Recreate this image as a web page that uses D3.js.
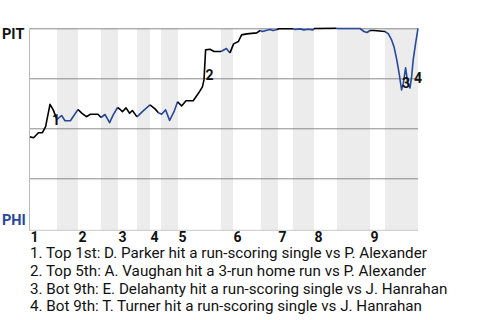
<!DOCTYPE html>
<html><head><meta charset="utf-8">
<script src="https://cdnjs.cloudflare.com/ajax/libs/d3/7.8.5/d3.min.js"></script>
<style>body{margin:0;background:#fff}svg{display:block}</style>
</head><body><svg id="c" width="480" height="320"></svg>
<script>
// half-inning start positions (plate-appearance index), last entry = end of game
const halfStarts = [0, 6.75, 12, 17.75, 22, 26.75, 30, 32.75, 37, 47.75, 50.75, 57.75, 62, 65.75, 71, 76.75, 85, 88.75, 97];
const inningLabels = ["1","2","3","4","5","6","7","8","9"];
// PIT win probability (%) by play index
const playX = [0,0.9,2.1,3.1,3.9,5.0,5.8,6.75,7.9,8.75,10.1,12,13,14.1,15.1,17,17.75,18.75,19.9,20.8,21.9,22.5,23.1,24,24.9,25.6,26.75,28.3,30,31.25,32.1,32.9,33.9,34.9,36,36.9,37.9,39,40.8,42.1,43.1,43.5,43.9,45,46,47.75,49.1,50,50.9,52.1,52.9,54.2,56.7,57.5,58.2,59,60,60.75,61.75,62.25,65.75,66.25,67.5,68.5,69.5,70.75,71,76.5,77,82.5,83.5,84.25,85,86,88.75,89.6,90.4,91,91.7,92.3,92.9,93.3,93.9,94.4,95,95.4,95.8,96.4,97];
const winPct = [45.7,45.3,47.8,47.8,50.8,62.0,59.2,54.4,56.4,53.8,53.8,59.4,57.5,55.8,57.0,57.0,55.4,56.9,52.8,56.7,60.4,59.5,58.3,60.2,57.5,58.9,55.7,58.7,61.7,59.7,57.8,57.0,59.2,53.9,58.3,63.3,61.2,63.8,63.8,67.5,70.7,74.2,89.2,89.5,88.4,88.4,89.9,87.7,92.2,93.4,96.7,97.2,97.7,98.9,98.4,98.9,99.4,98.9,99.4,99.8,99.8,99.4,99.7,99.2,99.5,99.2,99.9,100,99.9,99.9,98.4,97.9,98.9,98.9,98.4,97.2,94.2,90.8,84.2,77.2,69.2,72.2,80.2,73.2,70.2,75.7,84.2,92.5,100];
// key events
const eventNums = ["1","2","3","4"];
const eventX = [5.5, 43.9, 93.0, 96.0];
const eventPct = [51.6, 74.0, 70.3, 72.8];
const eventText = [
  "1. Top 1st: D. Parker hit a run-scoring single vs P. Alexander",
  "2. Top 5th: A. Vaughan hit a 3-run home run vs P. Alexander",
  "3. Bot 9th: E. Delahanty hit a run-scoring single vs J. Hanrahan",
  "4. Bot 9th: T. Turner hit a run-scoring single vs J. Hanrahan"
];
const teams = ["PIT", "PHI"];
const gridPct = [25, 50, 75, 100];

const BLUE = "#27489b";
const svg = d3.select("#c");
const x = d3.scaleLinear().domain([0, 97]).range([30, 418]);
const y = d3.scaleLinear().domain([0, 100]).range([228.3, 28.3]);
const font = "Roboto, 'Liberation Sans', Arial, sans-serif";

// bottom-half bands
const bands = [];
for (let i = 1; i < halfStarts.length - 1; i += 2) bands.push([halfStarts[i], halfStarts[i+1]]);
svg.append("g").selectAll("rect").data(bands).join("rect")
  .attr("x", d => x(d[0])).attr("width", d => x(d[1]) - x(d[0]))
  .attr("y", y(100)).attr("height", y(0) + 1.7 - y(100))
  .attr("fill", "#ececec");

// grid lines
svg.append("g").selectAll("line").data(gridPct).join("line")
  .attr("x1", x(0)).attr("x2", x(97))
  .attr("y1", d => y(d) + 0.5).attr("y2", d => y(d) + 0.5)
  .attr("stroke", "#8a8a8a").attr("stroke-width", 1);
// axis lines
svg.append("line").attr("x1", x(0)).attr("x2", x(97)).attr("y1", y(0) + 2).attr("y2", y(0) + 2)
  .attr("stroke", "#c8c8c8").attr("stroke-width", 1);
svg.append("line").attr("x1", x(0) - 0.5).attr("x2", x(0) - 0.5).attr("y1", y(100)).attr("y2", y(0) + 2.5)
  .attr("stroke", "#bbbbbb").attr("stroke-width", 1);

// win probability line, coloured by half inning
const pts = playX.map((v, i) => [v, winPct[i]]);
const line = d3.line().x(d => x(d[0])).y(d => y(d[1]));
for (let i = 0; i < halfStarts.length - 1; i++) {
  const a = halfStarts[i], b = halfStarts[i+1];
  const seg = pts.filter(p => p[0] >= a && p[0] <= b);
  const prev = pts.filter(p => p[0] < a);
  if (prev.length && (seg.length === 0 || seg[0][0] > a)) seg.unshift(prev[prev.length - 1]);
  svg.append("path").datum(seg).attr("d", line)
    .attr("fill", "none").attr("stroke", i % 2 === 0 ? "#000" : BLUE)
    .attr("stroke-width", 1.6).attr("stroke-linejoin", "round");
}

// event numbers
svg.append("g").selectAll("text").data(eventNums).join("text")
  .attr("x", (d, i) => x(eventX[i])).attr("y", (d, i) => y(eventPct[i]))
  .attr("font-family", font).attr("font-weight", "bold").attr("font-size", 14)
  .attr("fill", "#111").text(d => d);

// inning labels
const topStarts = halfStarts.filter((d, i) => i % 2 === 0 && i < halfStarts.length - 1);
svg.append("g").selectAll("text").data(inningLabels).join("text")
  .attr("x", (d, i) => x(topStarts[i]) + 0.5).attr("y", 242)
  .attr("font-family", font).attr("font-weight", "bold").attr("font-size", 14)
  .attr("fill", "#111").text(d => d);

// team labels
svg.append("text").attr("x", 2).attr("y", y(100) + 10.7).text(teams[0])
  .attr("font-family", font).attr("font-weight", "bold").attr("font-size", 14.5).attr("fill", "#111");
svg.append("text").attr("x", 2).attr("y", y(0) - 3.3).text(teams[1])
  .attr("font-family", font).attr("font-weight", "bold").attr("font-size", 14.5).attr("fill", BLUE);

// legend
svg.append("g").selectAll("text").data(eventText).join("text")
  .attr("x", 30).attr("y", (d, i) => 258.3 + i * 17.7)
  .attr("font-family", font).attr("font-size", 15.2).attr("fill", "#111").text(d => d);
</script></body></html>
